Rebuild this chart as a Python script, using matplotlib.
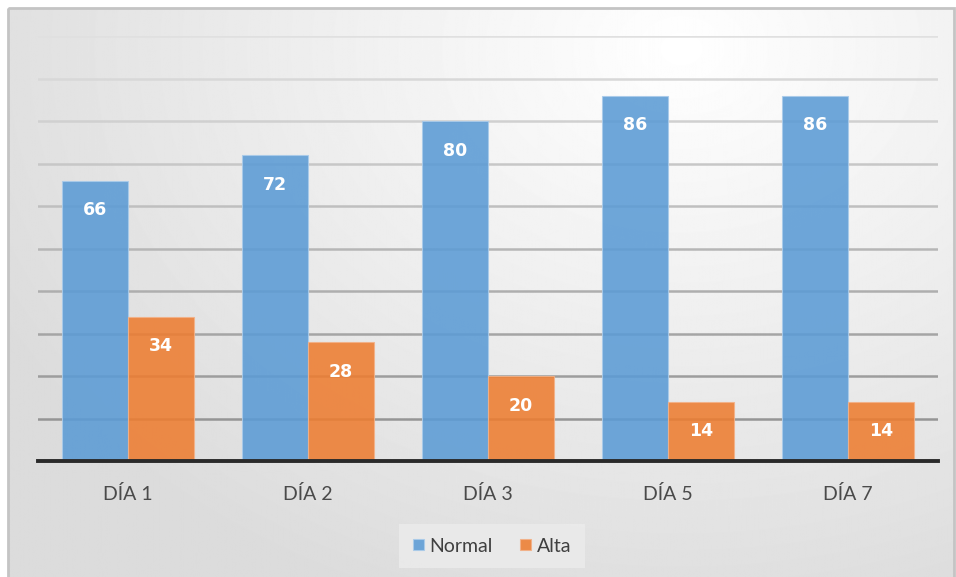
import numpy as np
import matplotlib.pyplot as plt
from matplotlib.patches import Rectangle

plt.rcParams['font.family'] = ['Lato', 'DejaVu Sans']

# data
categories = ['DÍA 1', 'DÍA 2', 'DÍA 3', 'DÍA 5', 'DÍA 7']
normal = [66, 72, 80, 86, 86]
alta = [34, 28, 20, 14, 14]

W, H = 956, 577
fig = plt.figure(figsize=(W / 100, H / 100), dpi=100)
fig.patch.set_facecolor('white')

# background gradient inside the chart box (light near top right, greyer left/bottom)
bg = fig.add_axes([0, 0, 1, 1], zorder=-10)
yy, xx = np.mgrid[0:H, 0:W]
d = np.sqrt(((xx - 680) / W) ** 2 + ((yy - 40) / H * 0.8) ** 2)
shade = np.clip(1.0 - 0.17 * d, 0.86, 1.0)
bg.imshow(shade, cmap='gray', vmin=0, vmax=1, extent=[8, 954, 590, 8], aspect='auto')
bg.add_patch(Rectangle((8, 8), 946, 590, fill=False, edgecolor='#c4c4c4', lw=2))
bg.set_xlim(0, W)
bg.set_ylim(H, 0)
bg.axis('off')

# plot area: x 38..938, y=100 at 36 px, y=0 at 461 px
ax = fig.add_axes([38 / W, (H - 461) / H, 900 / W, 425 / H])
ax.patch.set_alpha(0)
ax.set_xlim(-0.5, len(categories) - 0.5)
ax.set_ylim(0, 100)

for v in range(10, 101, 10):
    g = 0.55 + 0.33 * (v / 100)
    ax.axhline(v, color=(g, g, g), lw=1.8, zorder=0)

x = np.arange(len(categories))
w = 0.367
b1 = ax.bar(x - w / 2, normal, w, color='#5b9bd5', alpha=0.88, edgecolor='#a9cbea', lw=0.8, label='Normal', zorder=2)
b2 = ax.bar(x + w / 2, alta, w, color='#ed7d31', alpha=0.88, edgecolor='#f3b187', lw=0.8, label='Alta', zorder=2)

for bars in (b1, b2):
    for r in bars:
        ax.text(r.get_x() + r.get_width() / 2, r.get_height() - 7.0, f'{int(r.get_height())}',
                ha='center', va='center', color='white', fontsize=12.5, fontweight='bold',
                family='DejaVu Sans', zorder=3)

ax.axhline(0, color='#2a2a2a', lw=2.8, zorder=4, clip_on=False)

for s in ax.spines.values():
    s.set_visible(False)
ax.set_yticks([])
ax.set_xticks(x)
ax.set_xticklabels(categories, fontsize=14, color='#4a4a4a')
ax.tick_params(axis='x', length=0, pad=17)

leg = fig.legend(handles=[b1, b2], loc='center', bbox_to_anchor=(492 / W, (H - 546) / H),
                 ncol=2, frameon=True, fontsize=14, handlelength=0.55, handleheight=0.55,
                 handletextpad=0.3, columnspacing=1.4, labelcolor='#404040')
leg.get_frame().set_facecolor('#ececec')
leg.get_frame().set_edgecolor('none')
leg.get_frame().set_boxstyle('square', pad=0.3)

fig.savefig('out.png', dpi=100)
